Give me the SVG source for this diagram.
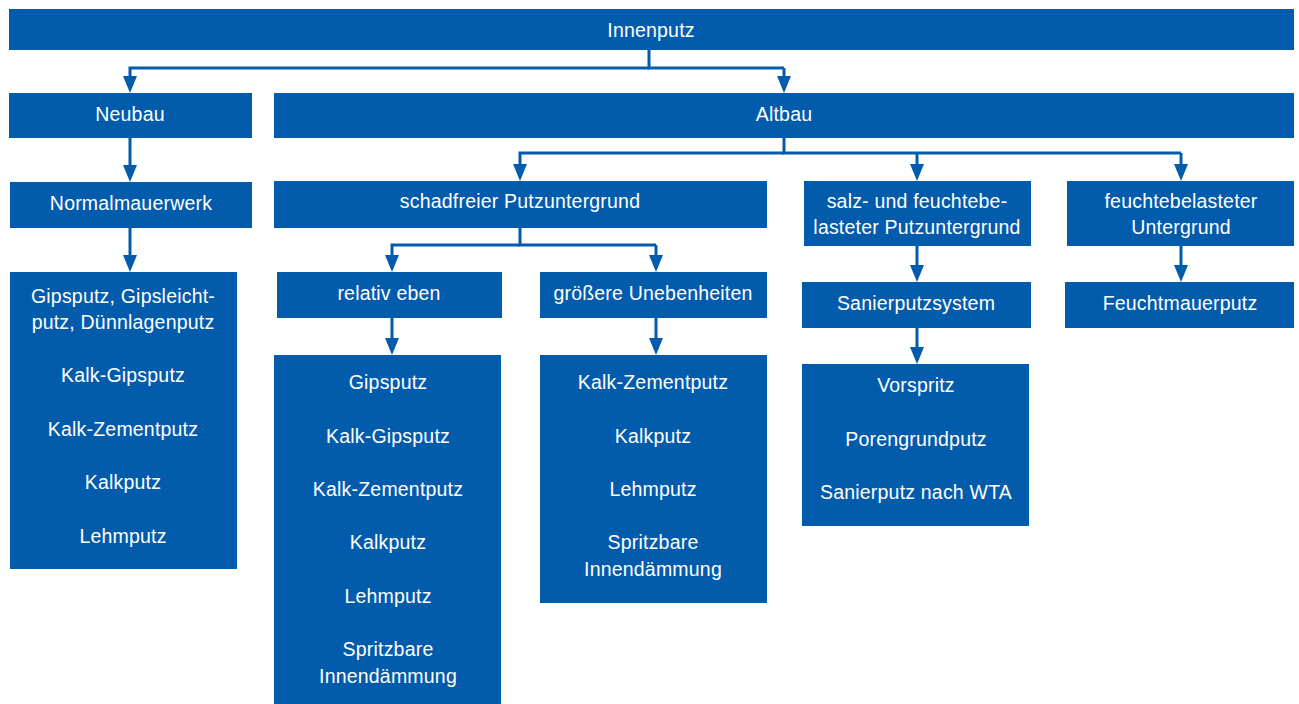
<svg xmlns="http://www.w3.org/2000/svg" width="1299" height="704" viewBox="0 0 1299 704">
<style>
.b{fill:#035bab}
.t{fill:#ffffff;font-family:"Liberation Sans",Arial,sans-serif;font-size:19.5px;text-anchor:middle;letter-spacing:0.2px}
.c{fill:none;stroke:#035bab;stroke-width:3;marker-end:url(#ah)}
.n{fill:none;stroke:#035bab;stroke-width:3}
</style>
<defs>
<marker id="ah" markerUnits="userSpaceOnUse" markerWidth="18" markerHeight="14" refX="7" refY="7" orient="auto" viewBox="0 0 18 14">
<path d="M0,0 L17,7 L0,14 Z" fill="#035bab"/>
</marker>
</defs>
<rect width="1299" height="704" fill="#ffffff"/>
<g id="connectors">
<path class="n" d="M649,50 V68 H784" />
<path class="c" d="M649,68 H130 V83" />
<path class="c" d="M784,68 V83" />
<path class="c" d="M130,138 V172" />
<path class="c" d="M130,228 V262" />
<path class="n" d="M784,138 V153 H1181" />
<path class="c" d="M784,153 H520 V171" />
<path class="c" d="M917,153 V171" />
<path class="c" d="M1181,153 V171" />
<path class="n" d="M520,228 V245 H656" />
<path class="c" d="M520,245 H392 V262" />
<path class="c" d="M656,245 V262" />
<path class="c" d="M392,318 V345" />
<path class="c" d="M656,318 V345" />
<path class="c" d="M917,246 V272" />
<path class="c" d="M917,328 V354" />
<path class="c" d="M1181,246 V272" />
</g>
<g id="innenputz"><rect class="b" x="9" y="9" width="1285" height="41"/><text class="t" x="651" y="37">Innenputz</text></g>
<g id="neubau"><rect class="b" x="9" y="93" width="243" height="45"/><text class="t" x="130" y="121">Neubau</text></g>
<g id="altbau"><rect class="b" x="274" y="93" width="1020" height="45"/><text class="t" x="784" y="121">Altbau</text></g>
<g id="normalmauerwerk"><rect class="b" x="10" y="182" width="242" height="46"/><text class="t" x="131" y="210">Normalmauerwerk</text></g>
<g id="neubau-putze"><rect class="b" x="10" y="272" width="227" height="297"/>
<text class="t" x="123" y="303">Gipsputz, Gipsleicht-</text>
<text class="t" x="123" y="329">putz, Dünnlagenputz</text>
<text class="t" x="123" y="382">Kalk-Gipsputz</text>
<text class="t" x="123" y="436">Kalk-Zementputz</text>
<text class="t" x="123" y="489">Kalkputz</text>
<text class="t" x="123" y="543">Lehmputz</text></g>
<g id="schadfrei"><rect class="b" x="274" y="181" width="493" height="47"/><text class="t" x="520" y="208">schadfreier Putzuntergrund</text></g>
<g id="salz"><rect class="b" x="804" y="181" width="227" height="65"/><text class="t" x="917" y="208">salz- und feuchtebe-</text><text class="t" x="917" y="234">lasteter Putzuntergrund</text></g>
<g id="feuchte"><rect class="b" x="1067" y="181" width="227" height="65"/><text class="t" x="1181" y="208">feuchtebelasteter</text><text class="t" x="1181" y="234">Untergrund</text></g>
<g id="relativ-eben"><rect class="b" x="277" y="272" width="225" height="46"/><text class="t" x="389" y="300">relativ eben</text></g>
<g id="unebenheiten"><rect class="b" x="540" y="272" width="227" height="46"/><text class="t" x="653" y="300">größere Unebenheiten</text></g>
<g id="sanierputzsystem"><rect class="b" x="802" y="282" width="229" height="46"/><text class="t" x="916" y="310">Sanierputzsystem</text></g>
<g id="feuchtmauerputz"><rect class="b" x="1065" y="282" width="229" height="46"/><text class="t" x="1180" y="310">Feuchtmauerputz</text></g>
<g id="eben-putze"><rect class="b" x="274" y="355" width="227" height="349"/>
<text class="t" x="388" y="389">Gipsputz</text>
<text class="t" x="388" y="443">Kalk-Gipsputz</text>
<text class="t" x="388" y="496">Kalk-Zementputz</text>
<text class="t" x="388" y="549">Kalkputz</text>
<text class="t" x="388" y="603">Lehmputz</text>
<text class="t" x="388" y="656">Spritzbare</text>
<text class="t" x="388" y="683">Innendämmung</text></g>
<g id="uneben-putze"><rect class="b" x="540" y="355" width="227" height="248"/>
<text class="t" x="653" y="389">Kalk-Zementputz</text>
<text class="t" x="653" y="443">Kalkputz</text>
<text class="t" x="653" y="496">Lehmputz</text>
<text class="t" x="653" y="549">Spritzbare</text>
<text class="t" x="653" y="576">Innendämmung</text></g>
<g id="sanier-putze"><rect class="b" x="802" y="364" width="227" height="162"/>
<text class="t" x="916" y="392">Vorspritz</text>
<text class="t" x="916" y="446">Porengrundputz</text>
<text class="t" x="916" y="499">Sanierputz nach WTA</text></g>
</svg>
